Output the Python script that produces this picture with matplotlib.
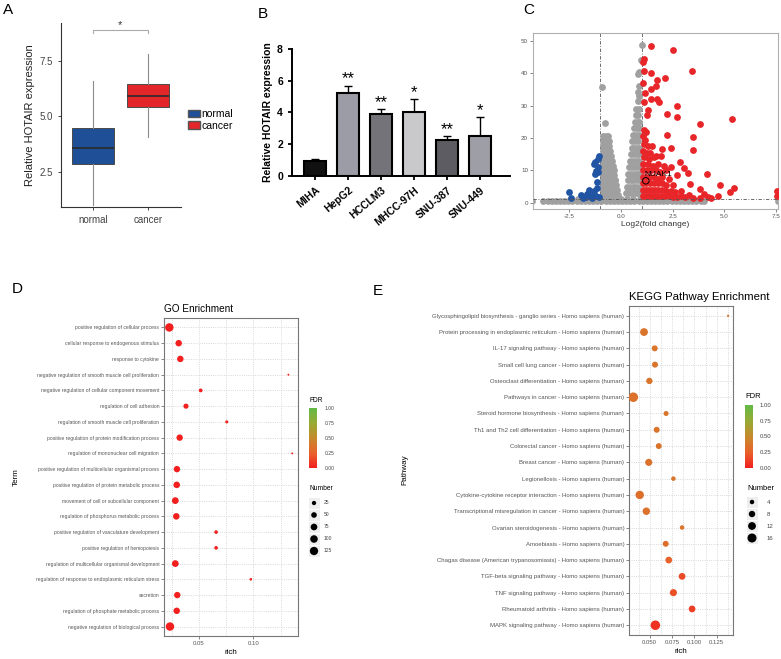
import numpy as np
import matplotlib.pyplot as plt
from matplotlib.colors import LinearSegmentedColormap, Normalize
from matplotlib.colorbar import ColorbarBase
from matplotlib.patches import Patch

plt.rcParams['font.family'] = ['Liberation Sans', 'DejaVu Sans']

# ---------------- A: box plot ----------------
groups = ['normal', 'cancer']
box_lo = [1.0, 4.06]
box_q1 = [2.82, 5.40]
box_med = [3.57, 5.89]
box_q3 = [4.46, 6.47]
box_hi = [6.60, 7.80]
box_colors = ['#1f4f97', '#e3262a']

# ---------------- B: bar chart ----------------
cells = ['MIHA', 'HepG2', 'HCCLM3', 'MHCC-97H', 'SNU-387', 'SNU-449']
cell_expr = [0.97, 5.25, 3.90, 4.05, 2.25, 2.55]
cell_err = [0.13, 0.45, 0.30, 0.80, 0.27, 1.15]
cell_sig = ['', '**', '**', '*', '**', '*']
bar_colors = ['#111111', '#9c9ca6', '#737379', '#c9c9cc', '#5c5c62', '#9e9ea7']

# ---------------- C: volcano ----------------
gray_rows = [
    (20.5, [-0.87, -0.72, -0.62]),
    (19.0, [-0.87, -0.72, -0.60]),
    (17.5, [-0.87, -0.72, -0.56]),
    (16.0, [-0.87, -0.72, -0.58, -0.52]),
    (14.5, [-0.87, -0.72, -0.58, -0.48]),
    (13.0, [-0.87, -0.72, -0.58, -0.44]),
    (11.5, [-0.87, -0.72, -0.58, -0.44, -0.40]),
    (10.0, [-0.87, -0.72, -0.58, -0.44, -0.36]),
    (8.5, [-0.87, -0.72, -0.58, -0.44, -0.32]),
    (7.0, [-0.87, -0.72, -0.58, -0.44, -0.30, -0.28]),
    (5.5, [-0.87, -0.72, -0.58, -0.44, -0.30, -0.23]),
    (4.0, [-0.87, -0.72, -0.58, -0.44, -0.30, -0.19]),
    (2.5, [-0.87, -0.72, -0.58, -0.44, -0.30, -0.16]),
    (3.0, [0.22, 0.36, 0.50, 0.64, 0.78, 0.86]),
    (5.0, [0.28, 0.42, 0.56, 0.70, 0.84]),
    (7.0, [0.32, 0.46, 0.60, 0.74, 0.86]),
    (9.0, [0.36, 0.50, 0.64, 0.78, 0.86]),
    (11.0, [0.40, 0.54, 0.68, 0.82]),
    (13.0, [0.44, 0.58, 0.72, 0.85]),
    (15.0, [0.48, 0.62, 0.76, 0.86]),
    (17.0, [0.51, 0.65, 0.79, 0.86]),
    (19.0, [0.55, 0.69, 0.83]),
    (21.0, [0.59, 0.73, 0.86]),
    (23.0, [0.63, 0.77, 0.86]),
    (25.0, [0.67, 0.80, 0.86]),
    (27.0, [0.71, 0.84]),
    (29.0, [0.75, 0.86]),
    (31.5, [0.80]), (33.0, [0.86]), (34.3, [0.84]), (36.0, [0.87]),
    (39.6, [0.83]), (40.3, [0.87]), (44.2, [0.95]), (48.7, [1.0]),
    (35.8, [-0.94]), (24.5, [-0.76]),
    (0.5, [-4.29, -3.79, -3.55, -3.35, -3.15, -2.95, -2.75, -2.55, -2.35, -2.15,
           -1.95, -1.75, -1.55, -1.35, -1.15, -0.95, -0.75, -0.55, -0.35, -0.15,
           0.05, 0.25, 0.45, 0.65, 0.85, 1.05, 1.25, 1.45, 1.65, 1.85, 2.05,
           2.25, 2.45, 2.65, 2.85, 3.05, 3.25, 3.45, 3.65, 3.85, 4.0, 7.58]),
    (1.1, [-2.4, -2.1, -1.8, -1.5, -1.2, -0.9, -0.6, -0.3, 0.0, 0.3, 0.6, 0.9,
           1.2, 1.5, 1.8, 2.1, 2.4, 2.7]),
]
red_pts = [
    (1.44, 48.5), (2.51, 47.3), (1.12, 44.4), (1.05, 43.4), (3.46, 40.7), (1.13, 40.8),
    (1.46, 40.2), (2.15, 38.4), (1.72, 38.0), (1.08, 37.0), (1.67, 36.0), (1.46, 35.0),
    (1.15, 33.8), (1.44, 32.1), (1.73, 31.9), (1.84, 31.1), (2.73, 29.9), (1.12, 31.2),
    (1.31, 28.6), (2.25, 27.4), (2.72, 26.4), (1.25, 27.0), (5.36, 26.0), (3.82, 24.3),
    (3.50, 20.4), (2.25, 20.9), (3.50, 16.4), (2.41, 16.9), (2.00, 16.6), (1.12, 22.5),
    (1.18, 19.5), (1.52, 17.6), (1.40, 15.3), (1.68, 14.3), (1.96, 14.3), (2.85, 12.5),
    (3.06, 10.7), (3.25, 9.1), (2.73, 8.6), (4.14, 8.9), (4.80, 5.4), (5.27, 3.2),
    (5.47, 4.7), (3.80, 4.4), (3.36, 5.7), (3.28, 2.5), (4.03, 2.7), (4.35, 1.4),
    (4.19, 1.7), (4.68, 2.2), (7.55, 3.5), (7.55, 2.0),
    (1.05, 2.0), (1.20, 2.0), (1.35, 2.0), (1.50, 2.0), (1.65, 2.0), (1.80, 2.0),
    (1.95, 2.0), (2.10, 2.0), (2.30, 2.0), (2.50, 1.8), (2.70, 1.8), (2.90, 2.0),
    (3.10, 1.7), (3.50, 1.6), (3.80, 1.5),
    (1.05, 4.0), (1.20, 4.0), (1.35, 4.0), (1.50, 4.0), (1.65, 4.0), (1.80, 4.0),
    (2.00, 4.0), (2.20, 3.8), (2.40, 3.5), (2.60, 3.2), (2.90, 3.5),
    (1.05, 6.0), (1.20, 6.0), (1.40, 6.0), (1.60, 6.0), (1.80, 6.0), (2.00, 6.0),
    (2.20, 5.5), (2.50, 5.5),
    (1.05, 8.0), (1.20, 8.0), (1.40, 8.0), (1.60, 8.0), (1.80, 7.5), (2.00, 8.0),
    (2.30, 7.5),
    (1.05, 10.0), (1.25, 10.0), (1.45, 10.0), (1.70, 10.0), (1.90, 9.5), (2.20, 10.0),
    (1.05, 12.0), (1.30, 12.0), (1.55, 11.5), (1.80, 12.0), (2.10, 11.5), (2.40, 11.0),
    (1.10, 14.0), (1.35, 13.5), (1.60, 14.0), (1.05, 16.0), (1.25, 15.5),
    (1.10, 18.0), (1.30, 17.5), (1.05, 20.5), (1.20, 22.0),
]
blue_pts = [
    (-1.07, 14.5), (-1.26, 12.7), (-1.31, 12.0), (-1.12, 13.5), (-1.23, 9.7),
    (-1.28, 8.9), (-1.10, 9.5), (-1.15, 6.3), (-1.15, 4.5), (-1.30, 3.5),
    (-1.55, 4.0), (-1.63, 2.8), (-1.45, 2.2), (-1.20, 2.0), (-1.70, 1.8),
    (-2.52, 3.3), (-2.44, 1.4), (-1.96, 2.5), (-1.85, 1.6), (-1.05, 1.8),
    (-1.40, 1.5), (-1.10, 11.0),
]
nuak1 = (1.2, 6.8)

# ---------------- D: GO ----------------
go_terms = [
    'positive regulation of cellular process',
    'cellular response to endogenous stimulus',
    'response to cytokine',
    'negative regulation of smooth muscle cell proliferation',
    'negative regulation of cellular component movement',
    'regulation of cell adhesion',
    'regulation of smooth muscle cell proliferation',
    'positive regulation of protein modification process',
    'regulation of mononuclear cell migration',
    'positive regulation of multicellular organismal process',
    'positive regulation of protein metabolic process',
    'movement of cell or subcellular component',
    'regulation of phosphorus metabolic process',
    'positive regulation of vasculature development',
    'positive regulation of hemopoiesis',
    'regulation of multicellular organismal development',
    'regulation of response to endoplasmic reticulum stress',
    'secretion',
    'regulation of phosphate metabolic process',
    'negative regulation of biological process',
]
go_rich = [0.0227, 0.0313, 0.0328, 0.1322, 0.0515, 0.0380, 0.0755, 0.0322, 0.1357, 0.0297,
           0.0295, 0.0282, 0.0291, 0.0657, 0.0657, 0.0282, 0.0976, 0.0300, 0.0295, 0.0233]
go_number = [130, 70, 70, 2, 18, 40, 10, 68, 2, 68, 72, 78, 72, 16, 16, 78, 6, 68, 70, 130]
go_fdr = [0.0, 0.01, 0.01, 0.02, 0.01, 0.01, 0.02, 0.0, 0.02, 0.0,
          0.0, 0.0, 0.0, 0.01, 0.01, 0.0, 0.02, 0.01, 0.0, 0.0]
go_breaks = [25, 50, 75, 100, 125]

# ---------------- E: KEGG ----------------
kegg_terms = [
    'Glycosphingolipid biosynthesis - ganglio series',
    'Protein processing in endoplasmic reticulum',
    'IL-17 signaling pathway',
    'Small cell lung cancer',
    'Osteoclast differentiation',
    'Pathways in cancer',
    'Steroid hormone biosynthesis',
    'Th1 and Th2 cell differentiation',
    'Colorectal cancer',
    'Breast cancer',
    'Legionellosis',
    'Cytokine-cytokine receptor interaction',
    'Transcriptional misregulation in cancer',
    'Ovarian steroidogenesis',
    'Amoebiasis',
    'Chagas disease (American trypanosomiasis)',
    'TGF-beta signaling pathway',
    'TNF signaling pathway',
    'Rheumatoid arthritis',
    'MAPK signaling pathway',
]
kegg_rich = [0.1377, 0.0436, 0.0556, 0.0559, 0.0496, 0.0316, 0.0683, 0.0578, 0.0601, 0.0489,
             0.0765, 0.0388, 0.0462, 0.0862, 0.0679, 0.0713, 0.0862, 0.0765, 0.0974, 0.0563]
kegg_number = [1, 12, 7, 7, 8, 18, 5, 7, 7, 10, 4, 14, 11, 4, 7, 9, 9, 10, 9, 18]
kegg_fdr = [0.38, 0.36, 0.36, 0.36, 0.36, 0.34, 0.37, 0.36, 0.36, 0.35,
            0.36, 0.33, 0.34, 0.36, 0.32, 0.26, 0.16, 0.18, 0.12, 0.07]
kegg_breaks = [4, 8, 12, 16]

W, H = 781, 659
fig = plt.figure(figsize=(W / 100, H / 100), dpi=100)


def box(l, t, r, b):
    return [l / W, 1 - b / H, (r - l) / W, (b - t) / H]


def ftext(x, y, s, **kw):
    fig.text(x / W, 1 - y / H, s, **kw)


fdr_cmap = LinearSegmentedColormap.from_list(
    'fdr', ['#f21f1f', '#e8622a', '#c68a2c', '#96aa34', '#62bb46'])


def go_size(n):
    d = 0.647 * np.sqrt(np.asarray(n, float)) + 1.06
    return (d * 0.72) ** 2


def kegg_size(n):
    d = 2.25 * np.sqrt(np.asarray(n, float))
    return (d * 0.72) ** 2


# ===== A =====
axA = fig.add_axes(box(61, 23, 181, 207))
stats = [dict(label=g, whislo=a, q1=b, med=c, q3=d, whishi=e)
         for g, a, b, c, d, e in zip(groups, box_lo, box_q1, box_med, box_q3, box_hi)]
bp = axA.bxp(stats, positions=[1, 2], widths=0.76, patch_artist=True,
             showfliers=False, showcaps=False,
             boxprops=dict(edgecolor='#4a4a4a', linewidth=0.7),
             medianprops=dict(color='#2a2a2a', linewidth=1.2),
             whiskerprops=dict(color='#8c8c8c', linewidth=0.8))
for p, c in zip(bp['boxes'], box_colors):
    p.set_facecolor(c)
axA.set_xlim(0.42, 2.6)
axA.set_ylim(0.9, 9.2)
axA.set_yticks([2.5, 5.0, 7.5])
axA.set_yticklabels(['2.5', '5.0', '7.5'])
for s in ['top', 'right']:
    axA.spines[s].set_visible(False)
for s in ['left', 'bottom']:
    axA.spines[s].set_color('#333333')
    axA.spines[s].set_linewidth(0.8)
axA.tick_params(labelsize=7, colors='#444444', length=2.5, width=0.7)
axA.set_ylabel('Relative HOTAIR expression', fontsize=8, color='#222222', labelpad=3)
axA.plot([1, 1, 2, 2], [8.76, 8.88, 8.88, 8.76], color='#aaaaaa', lw=0.8, clip_on=False)
axA.text(1.5, 9.12, '*', ha='center', va='center', fontsize=8, color='#333333')
fig.legend(handles=[Patch(facecolor=c, edgecolor='#555555', label=g)
                    for g, c in zip(groups, box_colors)],
           loc='center left', bbox_to_anchor=(181 / W, 1 - 120 / H), frameon=False,
           fontsize=7.5, handlelength=1.1, handleheight=0.7, handletextpad=0.15,
           labelspacing=0.1, borderpad=0.2)

# ===== B =====
axB = fig.add_axes(box(292, 49, 510, 176))
xb = np.arange(len(cells))
axB.bar(xb, cell_expr, width=0.66, color=bar_colors, edgecolor='black', linewidth=1.5, zorder=2)
axB.errorbar(xb, cell_expr, yerr=[np.zeros(len(cells)), cell_err], fmt='none',
             ecolor='black', elinewidth=1.0, capsize=3, capthick=1.0, zorder=1)
for x, v, e, s in zip(xb, cell_expr, cell_err, cell_sig):
    if s:
        axB.text(x, v + e + 0.42, s, ha='center', va='center', fontsize=12)
axB.set_xlim(-0.7, 5.9)
axB.set_ylim(0, 8)
axB.set_yticks([0, 2, 4, 6, 8])
axB.set_xticks(xb)
axB.set_xticklabels(cells, rotation=40, ha='right', rotation_mode='anchor',
                    fontweight='bold', fontsize=7.5)
for lab in axB.get_yticklabels():
    lab.set_fontweight('bold')
axB.tick_params(axis='y', labelsize=7.5, width=1.3, length=3)
axB.tick_params(axis='x', width=1.3, length=3)
for s in ['top', 'right']:
    axB.spines[s].set_visible(False)
for s in ['left', 'bottom']:
    axB.spines[s].set_linewidth(1.4)
axB.set_ylabel('Relative HOTAIR expression', fontsize=7.5, fontweight='bold', labelpad=3)

# ===== C =====
axC = fig.add_axes(box(533, 33, 778, 209))
gx = [x for y, xs in gray_rows for x in xs]
gy = [y for y, xs in gray_rows for x in xs]
axC.scatter(gx, gy, s=24, color='#a0a0a0', lw=0, zorder=2)
axC.scatter([p[0] for p in blue_pts], [p[1] for p in blue_pts], s=24, color='#2155a3', lw=0, zorder=3)
axC.scatter([p[0] for p in red_pts], [p[1] for p in red_pts], s=24, color='#e8262a', lw=0, zorder=3)
axC.scatter([nuak1[0]], [nuak1[1]], s=22, facecolors='none', edgecolors='black', lw=0.7, zorder=4)
axC.text(nuak1[0] - 0.08, nuak1[1] + 0.9, 'NUAK1', fontsize=6, va='bottom', zorder=4)
for xv in [-1, 1]:
    axC.axvline(xv, color='#555555', lw=0.6, ls=(0, (4, 2, 1, 2)), zorder=1)
axC.axhline(1.3, color='#555555', lw=0.6, ls=(0, (4, 2, 1, 2)), zorder=4)
axC.set_xlim(-4.26, 7.6)
axC.set_ylim(-1.9, 52.4)
axC.set_xticks([-2.5, 0, 2.5, 5, 7.5])
axC.set_xticklabels(['-2.5', '0.0', '2.5', '5.0', '7.5'])
axC.set_yticks([0, 10, 20, 30, 40, 50])
axC.tick_params(labelsize=4.5, colors='#555555', length=2, width=0.5, pad=1.5)
for s in axC.spines.values():
    s.set_color('#b0b0b0')
    s.set_linewidth(0.8)
axC.set_xlabel('Log2(fold change)', fontsize=6, color='#333333', labelpad=1.5)


# ===== D / E dot plots =====
def dot_panel(ax, terms, rich, number, fdr, size_fn, xlim, xticks, xtlabels, minor,
              title, tfs, lfs):
    y = np.arange(len(terms))
    ax.scatter(rich, y, s=size_fn(number), c=fdr, cmap=fdr_cmap, vmin=0, vmax=1, lw=0, zorder=3)
    ax.set_xlim(*xlim)
    ax.set_ylim(len(terms) - 0.4, -0.6)
    ax.set_yticks(y)
    ax.set_yticklabels(terms, fontsize=lfs, color='#555555')
    ax.set_xticks(xticks)
    ax.set_xticklabels(xtlabels, fontsize=4.3, color='#555555')
    ax.set_xticks(minor, minor=True)
    ax.tick_params(axis='both', which='major', length=2, width=0.5, color='#555555', pad=1.5)
    ax.tick_params(axis='x', which='minor', length=0)
    ax.grid(True, which='both', ls=':', color='#cccccc', lw=0.6, zorder=0)
    ax.set_axisbelow(True)
    for s in ax.spines.values():
        s.set_color('#777777')
        s.set_linewidth(0.8)
    ax.set_title(title, loc='left', fontsize=tfs, pad=4)
    ax.set_xlabel('rich', fontsize=5.8, labelpad=2)
    return ax


axD = fig.add_axes(box(164, 318, 298, 636))
dot_panel(axD, go_terms, go_rich, go_number, go_fdr, go_size, (0.0178, 0.141),
          [0.05, 0.10], ['0.05', '0.10'], [0.025, 0.075, 0.125], 'GO Enrichment', 7.2, 3.6)
ftext(16, 477, 'Term', rotation=90, fontsize=5.8, ha='center', va='center')

axE = fig.add_axes(box(629, 306, 733, 635))
dot_panel(axE, [t + ' - Homo sapiens (human)' for t in kegg_terms], kegg_rich, kegg_number,
          kegg_fdr, kegg_size, (0.0268, 0.1432), [0.05, 0.075, 0.10, 0.125],
          ['0.050', '0.075', '0.100', '0.125'], [0.0375, 0.0625, 0.0875, 0.1125, 0.1375],
          'KEGG Pathway Enrichment', 8.2, 4.3)
ftext(405, 470, 'Pathway', rotation=90, fontsize=5.8, ha='center', va='center')


def fdr_legend(l, t, r, b, lx, ty, fs):
    ftext(l, ty, 'FDR', fontsize=fs + 1.2, va='center')
    cax = fig.add_axes(box(l, t, r, b))
    cb = ColorbarBase(cax, cmap=fdr_cmap, norm=Normalize(0, 1), ticks=[0, 0.25, 0.5, 0.75, 1])
    cb.outline.set_visible(False)
    cax.set_yticklabels(['0.00', '0.25', '0.50', '0.75', '1.00'])
    cax.tick_params(labelsize=fs, length=2, color='white', width=0.6, pad=(lx - r) * 0.72,
                    labelcolor='#444444')


def number_legend(l, t, r, b, breaks, size_fn, tx, xmax, ty, fs):
    ftext(l + 1, ty, 'Number', fontsize=fs + 1.2, va='center')
    ax = fig.add_axes(box(l, t, r, b))
    idx = np.arange(len(breaks))
    ax.scatter(np.zeros(len(breaks)), idx, marker='s', s=(11 * 0.72) ** 2, color='#eeeeee', lw=0)
    ax.scatter(np.zeros(len(breaks)), idx, s=size_fn(breaks), color='black', lw=0)
    for i, v in zip(idx, breaks):
        ax.text(tx, i, str(v), fontsize=fs, va='center', ha='left', color='#444444')
    ax.set_xlim(-0.6, xmax)
    ax.set_ylim(len(breaks) - 0.5, -0.5)
    ax.axis('off')


fdr_legend(309, 408, 317, 468, 322, 400, 3.6)
number_legend(308, 497, 344, 557, go_breaks, go_size, 1.0, 3.0, 489, 3.6)
fdr_legend(745, 405, 753, 468, 757, 397, 4.3)
number_legend(746, 496, 781, 544, kegg_breaks, kegg_size, 1.5, 2.9, 489, 4.3)

# panel letters
for letter, x, y in [('A', 3, 10), ('B', 258, 14), ('C', 523, 10), ('D', 12, 289), ('E', 373, 291)]:
    ftext(x, y, letter, fontsize=11, va='center', ha='left')

fig.savefig('out.png', dpi=100)
